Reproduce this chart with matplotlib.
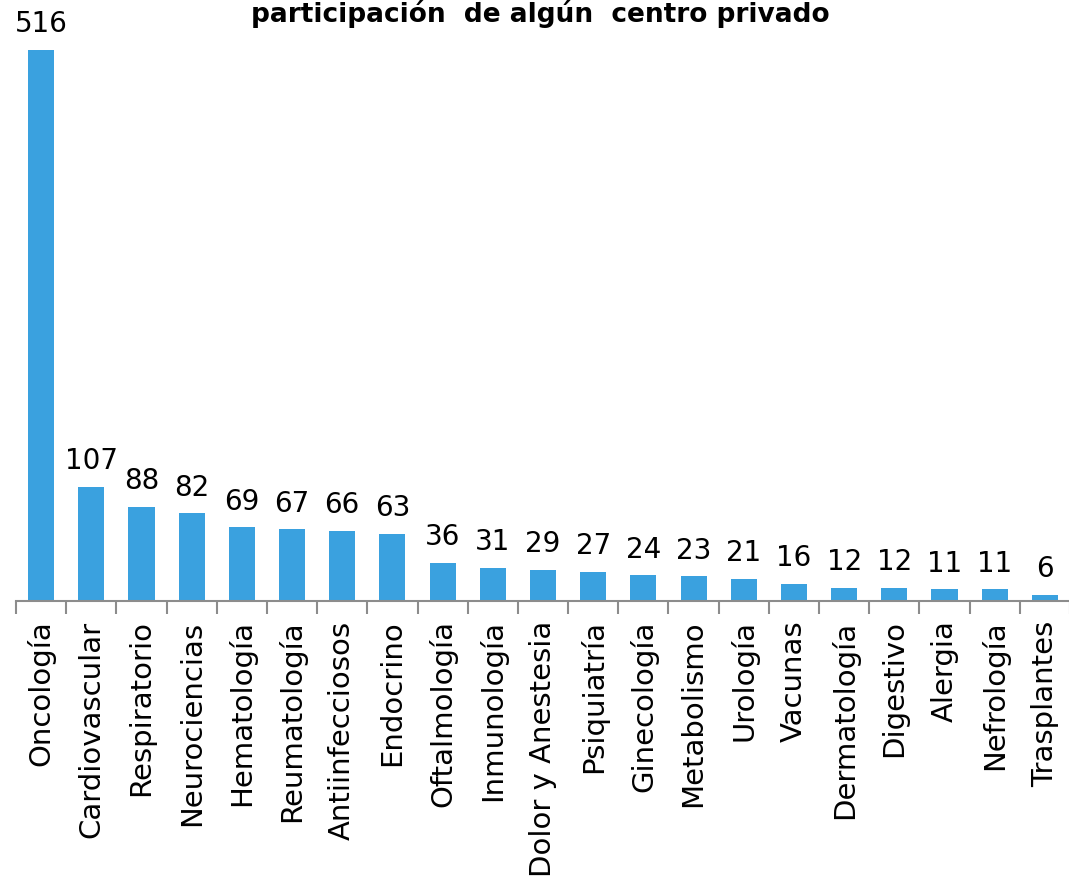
import numpy as np
import matplotlib.pyplot as plt

# Datos
areas = ['Oncología', 'Cardiovascular', 'Respiratorio', 'Neurociencias', 'Hematología',
         'Reumatología', 'Antiinfecciosos', 'Endocrino', 'Oftalmología', 'Inmunología',
         'Dolor y Anestesia', 'Psiquiatría', 'Ginecología', 'Metabolismo', 'Urología',
         'Vacunas', 'Dermatología', 'Digestivo', 'Alergia', 'Nefrología', 'Trasplantes']
ensayos = [516, 107, 88, 82, 69, 67, 66, 63, 36, 31, 29, 27, 24, 23, 21, 16, 12, 12, 11, 11, 6]

fig = plt.figure(figsize=(10.69, 8.8), dpi=100)
ax = fig.add_axes([16 / 1069, 279 / 880, 1054 / 1069, 601 / 880])

x = np.arange(len(areas))
ax.bar(x, ensayos, width=0.52, color='#3AA1DF')

for xi, v in zip(x, ensayos):
    ax.text(xi, v + 11, str(v), ha='center', va='bottom', fontsize=20, color='black')

ax.set_xlim(-0.5, len(areas) - 0.5)
ax.set_ylim(0, 563)
ax.set_yticks([])
for s in ['left', 'top', 'right']:
    ax.spines[s].set_visible(False)
ax.spines['bottom'].set_color('#8c8c8c')
ax.spines['bottom'].set_linewidth(1.5)

ax.set_xticks(x)
ax.set_xticklabels(areas, rotation=90, fontsize=21, va='top')
ax.tick_params(axis='x', which='major', length=0, pad=14)
ax.set_xticks(np.arange(-0.5, len(areas), 1), minor=True)
ax.tick_params(axis='x', which='minor', length=9, width=1.5, color='#8c8c8c')

fig.text(0.505, 1 - 22 / 880, 'participación  de algún  centro privado',
         ha='center', va='baseline', fontsize=19, fontweight='bold')

fig.savefig('out.png', dpi=100)
